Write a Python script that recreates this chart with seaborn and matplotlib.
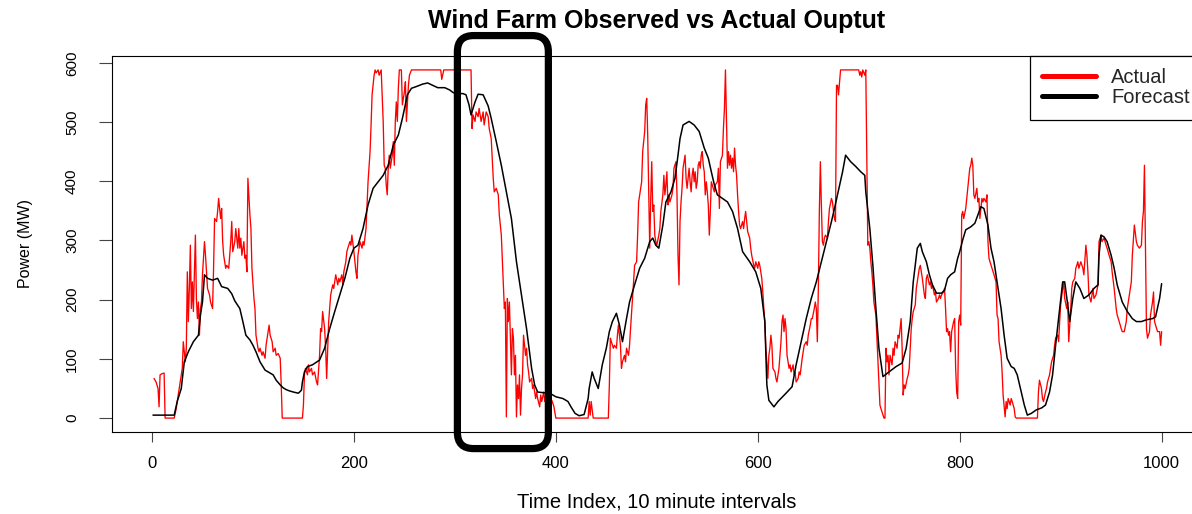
import matplotlib
matplotlib.use("Agg")
import matplotlib.pyplot as plt
from matplotlib.patches import FancyBboxPatch
from matplotlib.lines import Line2D
import pandas as pd
import seaborn as sns

# ---- data: observed output (10-minute index, MW) ----
actual_t = [
    2, 4, 6, 7, 8, 10, 12, 13, 22, 24, 25, 27, 29, 30, 31, 33, 34, 35, 36, 37, 38, 39, 40, 41, 42, 43, 44, 45, 46, 47,
    48, 49, 50, 52, 53, 55, 57, 58, 60, 61, 62, 64, 65, 66, 68, 69, 70, 71, 73, 74, 76, 78, 79, 80, 82, 83, 85, 86, 87, 88,
    89, 91, 92, 93, 94, 95, 97, 98, 99, 101, 102, 103, 105, 106, 107, 109, 110, 112, 113, 115, 116, 117, 119, 120, 122, 123, 125, 127, 128, 129,
    149, 150, 151, 152, 154, 155, 156, 158, 159, 161, 163, 164, 166, 167, 168, 169, 171, 172, 173, 175, 176, 177, 179, 180, 181, 182, 184, 185, 186, 188,
    189, 190, 192, 193, 194, 196, 197, 198, 200, 201, 202, 203, 204, 205, 206, 208, 209, 210, 212, 213, 214, 216, 217, 218, 220, 221, 222, 224, 225, 227,
    229, 230, 231, 232, 233, 234, 235, 236, 238, 239, 240, 241, 242, 243, 244, 245, 247, 248, 250, 251, 252, 254, 255, 257, 286, 287, 289, 316, 317, 318,
    320, 321, 323, 324, 326, 328, 329, 331, 333, 334, 336, 338, 339, 341, 343, 344, 346, 348, 349, 350, 351, 352, 353, 354, 355, 356, 357, 358, 359, 360,
    361, 362, 363, 364, 365, 366, 367, 368, 369, 370, 371, 372, 373, 374, 376, 377, 378, 380, 381, 382, 384, 385, 386, 388, 389, 390, 392, 394, 396, 398,
    400, 432, 433, 434, 435, 437, 452, 453, 454, 455, 457, 458, 460, 461, 462, 464, 465, 466, 468, 469, 470, 472, 473, 474, 476, 477, 478, 480, 481, 482,
    484, 485, 486, 488, 489, 490, 491, 492, 493, 494, 495, 496, 497, 498, 499, 500, 502, 503, 504, 506, 507, 508, 509, 510, 511, 512, 513, 515, 516, 517,
    519, 520, 521, 522, 523, 524, 525, 526, 527, 528, 529, 530, 531, 532, 533, 534, 535, 536, 537, 538, 539, 540, 541, 542, 543, 544, 545, 546, 547, 548,
    549, 550, 551, 552, 553, 554, 556, 557, 558, 560, 561, 562, 563, 565, 566, 567, 568, 569, 570, 571, 572, 573, 574, 575, 576, 577, 578, 579, 580, 581,
    582, 583, 585, 586, 587, 588, 589, 590, 592, 593, 594, 596, 597, 598, 600, 601, 602, 604, 605, 606, 607, 608, 609, 610, 611, 612, 613, 614, 615, 617,
    618, 619, 620, 621, 623, 624, 625, 626, 627, 628, 629, 631, 632, 633, 635, 636, 637, 638, 640, 641, 642, 644, 645, 646, 648, 649, 650, 652, 653, 654,
    656, 657, 658, 659, 660, 661, 662, 663, 664, 665, 666, 667, 669, 670, 671, 673, 674, 675, 676, 677, 678, 679, 680, 681, 682, 700, 701, 702, 703, 704,
    706, 707, 708, 709, 710, 711, 712, 713, 714, 715, 717, 718, 719, 720, 721, 722, 724, 725, 726, 727, 728, 729, 730, 731, 733, 734, 735, 736, 738, 739,
    740, 742, 743, 744, 745, 746, 748, 749, 750, 752, 753, 754, 756, 757, 758, 760, 761, 762, 763, 765, 766, 767, 768, 770, 771, 772, 773, 775, 776, 777,
    779, 780, 781, 782, 784, 785, 786, 787, 788, 789, 790, 791, 792, 794, 795, 796, 797, 798, 799, 800, 801, 802, 803, 804, 806, 807, 808, 810, 811, 812,
    813, 814, 815, 817, 818, 819, 820, 822, 823, 824, 826, 827, 828, 829, 830, 832, 833, 834, 836, 837, 838, 839, 841, 842, 843, 845, 846, 847, 848, 850,
    851, 852, 854, 855, 856, 877, 878, 879, 881, 882, 883, 885, 886, 887, 889, 890, 891, 893, 894, 895, 897, 898, 899, 900, 902, 903, 904, 906, 907, 908,
    910, 911, 912, 914, 915, 916, 917, 918, 920, 922, 923, 925, 926, 927, 928, 930, 932, 933, 935, 937, 938, 940, 941, 943, 945, 946, 948, 950, 951, 953,
    955, 956, 958, 960, 961, 963, 965, 966, 968, 970, 971, 973, 975, 976, 978, 980, 981, 982, 983, 984, 985, 986, 988, 989, 991, 992, 993, 994, 996, 998,
    999, 1000,
]
actual_mw = [
    67, 61, 50, 19, 73, 75, 76, 0, 0, 16, 28, 50, 73, 84, 129, 95, 118, 247, 163, 219, 292, 185, 230, 180, 247, 309, 202, 168, 196, 140,
    185, 196, 242, 298, 275, 219, 208, 196, 185, 253, 337, 332, 349, 371, 337, 354, 298, 275, 253, 258, 253, 298, 332, 281, 298, 320, 287, 320, 287, 304,
    275, 298, 270, 275, 247, 405, 343, 320, 253, 202, 185, 140, 118, 112, 118, 106, 112, 101, 123, 146, 157, 140, 129, 112, 118, 106, 109, 101, 56, 0,
    0, 22, 73, 84, 73, 90, 78, 84, 73, 78, 61, 56, 106, 151, 146, 180, 151, 118, 67, 163, 185, 208, 225, 219, 230, 242, 225, 236, 230, 242,
    225, 247, 264, 281, 287, 298, 292, 309, 281, 264, 247, 236, 275, 287, 298, 287, 298, 292, 320, 360, 399, 450, 495, 546, 579, 588, 583, 588, 579, 588,
    501, 427, 422, 394, 377, 422, 444, 422, 444, 467, 427, 501, 534, 501, 557, 588, 588, 529, 551, 568, 501, 562, 579, 588, 588, 572, 588, 588, 489, 512,
    501, 517, 509, 523, 501, 517, 495, 517, 509, 489, 472, 405, 382, 388, 377, 343, 309, 225, 185, 196, 2, 202, 163, 196, 135, 73, 151, 135, 73, 106,
    2, 56, 33, 73, 5, 50, 73, 140, 123, 106, 118, 90, 78, 61, 67, 50, 56, 33, 44, 33, 19, 39, 28, 44, 28, 39, 33, 28, 30, 20,
    0, 0, 28, 5, 28, 0, 0, 56, 135, 129, 118, 123, 118, 140, 157, 123, 84, 95, 106, 95, 118, 106, 123, 151, 202, 230, 258, 264, 309, 365,
    388, 399, 450, 484, 529, 540, 478, 377, 287, 371, 433, 349, 360, 309, 298, 292, 309, 320, 349, 377, 410, 377, 394, 416, 360, 377, 365, 377, 388, 422,
    433, 377, 275, 225, 332, 365, 388, 422, 433, 444, 405, 388, 405, 422, 399, 382, 410, 422, 399, 416, 388, 399, 427, 433, 422, 444, 450, 427, 416, 377,
    399, 382, 360, 309, 349, 399, 388, 382, 394, 399, 422, 354, 433, 444, 489, 523, 588, 501, 422, 450, 427, 444, 422, 439, 416, 456, 427, 410, 377, 349,
    326, 320, 332, 320, 337, 349, 332, 315, 304, 287, 275, 258, 253, 264, 253, 264, 258, 236, 213, 185, 163, 118, 95, 67, 106, 118, 140, 123, 84, 78,
    67, 61, 73, 84, 129, 163, 174, 146, 168, 151, 106, 84, 90, 78, 90, 73, 78, 61, 67, 78, 73, 101, 112, 123, 129, 123, 140, 157, 168, 168,
    185, 196, 185, 129, 219, 349, 433, 360, 298, 292, 304, 309, 304, 332, 354, 371, 365, 349, 337, 332, 562, 562, 546, 568, 588, 588, 579, 585, 576, 588,
    579, 588, 444, 292, 298, 287, 264, 247, 225, 196, 174, 135, 95, 56, 22, 16, 5, 0, 0, 118, 95, 106, 73, 106, 90, 118, 106, 129, 118, 140,
    135, 168, 118, 39, 56, 50, 67, 73, 84, 151, 168, 180, 191, 219, 230, 253, 258, 247, 236, 208, 202, 236, 242, 225, 230, 219, 225, 208, 213, 196,
    202, 208, 202, 208, 213, 219, 185, 146, 151, 140, 146, 112, 146, 163, 168, 84, 44, 33, 163, 174, 157, 343, 349, 337, 354, 371, 388, 422, 427, 439,
    427, 377, 371, 388, 365, 371, 337, 371, 365, 371, 365, 377, 298, 270, 264, 253, 247, 242, 230, 174, 168, 129, 106, 78, 39, 2, 28, 16, 33, 22,
    33, 28, 16, 2, 0, 0, 44, 64, 50, 33, 28, 44, 50, 61, 73, 84, 95, 106, 123, 135, 140, 129, 163, 191, 219, 230, 202, 185, 196, 129,
    185, 219, 230, 236, 253, 258, 264, 253, 264, 253, 242, 292, 275, 247, 208, 196, 219, 202, 208, 225, 298, 309, 298, 304, 292, 287, 275, 264, 247, 219,
    185, 174, 163, 151, 146, 146, 163, 185, 208, 230, 275, 326, 298, 292, 287, 292, 332, 349, 427, 287, 151, 135, 146, 174, 196, 213, 163, 157, 146, 146,
    123, 146,
]

# ---- data: forecast output ----
forecast_t = [
    1, 22, 25, 29, 32, 36, 41, 46, 48, 50, 52, 55, 60, 65, 69, 75, 79, 82, 85, 87, 90, 93, 97, 100, 103, 107, 112, 117, 120, 123,
    127, 130, 133, 136, 140, 145, 148, 149, 151, 154, 159, 166, 171, 176, 181, 186, 191, 196, 200, 204, 209, 214, 219, 224, 229, 234, 239, 244, 248, 253,
    257, 262, 268, 273, 278, 283, 290, 295, 298, 301, 308, 311, 314, 316, 320, 323, 328, 333, 336, 341, 346, 351, 356, 361, 366, 371, 376, 379, 382, 387,
    394, 400, 407, 412, 415, 419, 423, 428, 432, 433, 436, 438, 442, 446, 450, 453, 456, 460, 463, 466, 470, 473, 478, 483, 488, 493, 496, 499, 502, 506,
    509, 514, 518, 521, 523, 526, 529, 532, 537, 542, 547, 551, 554, 557, 560, 565, 570, 575, 580, 585, 592, 598, 603, 607, 609, 611, 616, 620, 628, 634,
    638, 643, 648, 653, 658, 663, 668, 673, 676, 679, 684, 687, 692, 697, 702, 706, 707, 711, 714, 717, 720, 724, 730, 737, 743, 747, 751, 754, 758, 761,
    763, 767, 770, 773, 777, 782, 785, 788, 791, 795, 798, 800, 803, 806, 811, 815, 818, 821, 824, 828, 831, 834, 837, 841, 844, 847, 851, 854, 857, 861,
    864, 867, 871, 876, 881, 885, 889, 892, 895, 899, 902, 904, 907, 909, 912, 915, 919, 923, 928, 933, 937, 938, 940, 943, 946, 950, 953, 956, 961, 966,
    971, 975, 980, 985, 991, 994, 998, 1000,
]
forecast_mw = [
    5, 5, 28, 50, 95, 112, 129, 140, 174, 196, 242, 236, 233, 236, 222, 219, 210, 198, 190, 185, 163, 140, 132, 123, 112, 95, 81, 76, 73, 64,
    56, 51, 48, 46, 44, 42, 47, 61, 78, 87, 90, 98, 118, 151, 180, 208, 236, 270, 287, 292, 320, 360, 388, 399, 410, 427, 461, 478, 506, 546,
    557, 560, 564, 566, 562, 558, 558, 554, 550, 548, 548, 546, 529, 512, 534, 547, 546, 527, 506, 467, 427, 382, 337, 264, 208, 151, 84, 56, 44, 43,
    42, 36, 33, 28, 19, 8, 4, 6, 33, 50, 78, 67, 50, 90, 118, 146, 163, 177, 157, 129, 168, 196, 225, 253, 270, 298, 304, 292, 287, 326,
    365, 382, 405, 444, 472, 495, 498, 501, 495, 484, 456, 439, 416, 394, 377, 371, 365, 349, 320, 281, 264, 247, 219, 163, 56, 30, 19, 28, 42, 53,
    90, 129, 168, 202, 230, 264, 298, 332, 354, 377, 416, 444, 433, 425, 416, 410, 382, 320, 258, 185, 118, 70, 78, 87, 93, 118, 163, 230, 287, 295,
    281, 264, 242, 225, 211, 211, 216, 236, 242, 247, 270, 281, 301, 318, 323, 329, 343, 357, 354, 326, 287, 264, 230, 185, 140, 101, 87, 84, 73, 44,
    22, 5, 8, 14, 17, 22, 44, 73, 123, 185, 230, 230, 191, 163, 202, 230, 219, 202, 208, 219, 225, 275, 309, 306, 298, 275, 253, 225, 196, 180,
    168, 163, 163, 166, 168, 171, 202, 227,
]

series_names = ["Actual", "Forecast"]
series_colors = ["#ff0000", "#000000"]
x_ticks = [0, 200, 400, 600, 800, 1000]
y_ticks = [0, 100, 200, 300, 400, 500, 600]
title_text = "Wind Farm Observed vs Actual Ouptut"
x_label = "Time Index, 10 minute intervals"
y_label = "Power (MW)"
# highlighted window on the time axis
window_start, window_end = 302.5, 392.6

actual = pd.DataFrame({"t": actual_t, "mw": actual_mw})
forecast = pd.DataFrame({"t": forecast_t, "mw": forecast_mw})

sns.set_theme(style="white")
plt.rcParams["font.family"] = ["Liberation Sans", "DejaVu Sans"]

W, H = 1192, 514
fig = plt.figure(figsize=(W / 100, H / 100), dpi=100, facecolor="white")
ax = fig.add_axes([111.6 / W, 1 - 432 / H, (1202 - 111.6) / W, (432 - 56) / H])
ax.set_facecolor("white")

sns.lineplot(data=actual, x="t", y="mw", color=series_colors[0], lw=0.95,
             estimator=None, sort=False, legend=False, ax=ax)
sns.lineplot(data=forecast, x="t", y="mw", color=series_colors[1], lw=1.1,
             estimator=None, sort=False, legend=False, ax=ax)

ax.set_xlim(-40, 1040)
ax.set_ylim(-23.5, 611.5)
ax.set_xticks(x_ticks)
ax.set_yticks(y_ticks)
ax.grid(False)

for side in ["left", "right", "top", "bottom"]:
    ax.spines[side].set_visible(True)
    ax.spines[side].set_color("black")
    ax.spines[side].set_linewidth(0.8)

ax.tick_params(axis="x", bottom=True, direction="out", length=7.5, width=0.8,
               color="#444444", pad=9.5, labelsize=12, labelcolor="black")
ax.tick_params(axis="y", left=True, direction="out", length=9.5, width=0.8,
               color="#444444", pad=14, labelsize=11, labelcolor="black",
               labelrotation=90)
for lab in ax.get_yticklabels():
    lab.set_va("center")

ax.set_title(title_text, fontsize=18, fontweight="bold", pad=20, color="black")
ax.set_xlabel(x_label, fontsize=14.5, color="black")
ax.xaxis.set_label_coords(0.5, -0.186)
ax.xaxis.label.set_va("center")
ax.set_ylabel(y_label, fontsize=11.5, color="black")
ax.yaxis.set_label_coords(-0.079, 0.5)
ax.yaxis.label.set_va("center")
ax.yaxis.label.set_ha("center")

handles = [Line2D([], [], color=c, lw=3.6) for c in series_colors]
leg = ax.legend(handles, series_names, loc="upper right", bbox_to_anchor=(1, 1),
                borderaxespad=0, fancybox=False, frameon=True, edgecolor="black",
                framealpha=1, fontsize=14.5, handlelength=2.65, handletextpad=0.75,
                borderpad=0.62, labelspacing=0.05)
leg.get_frame().set_linewidth(0.9)

# rounded box marking the ramp-down window
yr = 1.706  # data-units aspect (y per x) for equal pixel rounding
box = FancyBboxPatch((window_start, -51.5), window_end - window_start, 697.5,
                     boxstyle="round,pad=0,rounding_size=16", mutation_aspect=yr,
                     transform=ax.transData, clip_on=False, fill=False,
                     ec="black", lw=5.2, zorder=6)
ax.add_patch(box)

fig.savefig("out.png", dpi=100, facecolor="white")
